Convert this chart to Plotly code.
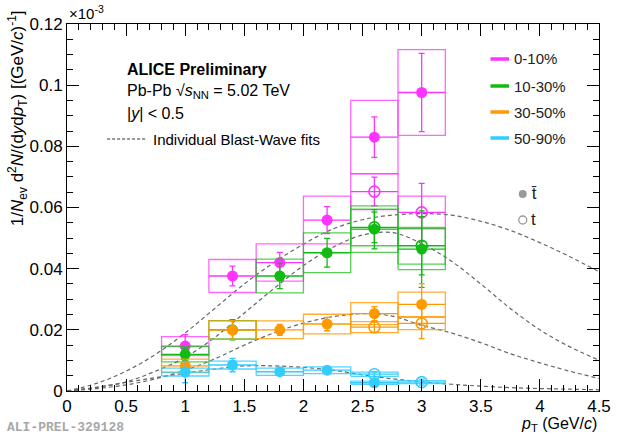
import plotly.graph_objects as go

# ---------------- data ----------------
pt_tbar = [1.0, 1.4, 1.8, 2.2, 2.6, 3.0]
pt_t = [2.6, 3.0]
pt_tbar_50_90 = [1.0, 1.4, 1.8, 2.2, 2.6]
bin_half_width = 0.2

# 0-10%
y_tbar_0_10 = [0.0147, 0.0376, 0.0420, 0.0559, 0.0830, 0.0976]
stat_tbar_0_10 = [0.0037, 0.0032, 0.0033, 0.0044, 0.0066, 0.0128]
sys_tbar_0_10 = [0.0031, 0.0054, 0.0061, 0.0078, 0.0120, 0.0140]
y_t_0_10 = [0.0652, 0.0584]
stat_t_0_10 = [0.0047, 0.0095]
sys_t_0_10 = [0.0059, 0.0053]

# 10-30%
y_tbar_10_30 = [0.0120, 0.0200, 0.0376, 0.0452, 0.0529, 0.0464]
stat_tbar_10_30 = [0.0020, 0.0033, 0.0041, 0.0047, 0.0064, 0.0125]
sys_tbar_10_30 = [0.0025, 0.0030, 0.0055, 0.0065, 0.0076, 0.0067]
y_t_10_30 = [0.0535, 0.0475]
stat_t_10_30 = [0.0050, 0.0095]
sys_t_10_30 = [0.0060, 0.0060]

# 30-50%
y_tbar_30_50 = [0.0082, 0.0199, 0.0200, 0.0219, 0.0253, 0.0283]
stat_tbar_30_50 = [0.0015, 0.0030, 0.0018, 0.0022, 0.0023, 0.0068]
sys_tbar_30_50 = [0.0022, 0.0030, 0.0029, 0.0032, 0.0036, 0.0040]
y_t_30_50 = [0.0209, 0.0221]
stat_t_30_50 = [0.0018, 0.0050]
sys_t_30_50 = [0.0018, 0.0020]

# 50-90%
y_tbar_50_90 = [0.0062, 0.0085, 0.0063, 0.0068, 0.0027]
stat_tbar_50_90 = [0.0035, 0.0022, 0.0010, 0.0010, 0.0007]
sys_tbar_50_90 = [0.0013, 0.0013, 0.0012, 0.0011, 0.0005]
y_t_50_90 = [0.0055, 0.0029]
stat_t_50_90 = [0.0008, 0.0010]
sys_t_50_90 = [0.0007, 0.0005]

# Blast-Wave fit curves
pt_fit = [0.0, 0.25, 0.5, 0.75, 1.0, 1.25, 1.5, 1.75, 2.0, 2.25, 2.5,
          2.75, 3.0, 3.25, 3.5, 3.75, 4.0, 4.25, 4.5]
fit_0_10 = [0.0, 0.0025, 0.0065, 0.0120, 0.0190, 0.0270, 0.0350, 0.0420,
            0.0480, 0.0530, 0.0560, 0.0575, 0.0580, 0.0575, 0.0555, 0.0525,
            0.0485, 0.0440, 0.0390]
fit_10_30 = [0.0, 0.0012, 0.0030, 0.0065, 0.0110, 0.0175, 0.0255, 0.0335,
             0.0410, 0.0470, 0.0510, 0.0518, 0.0482, 0.0425, 0.0350,
             0.0270, 0.0200, 0.0145, 0.0101]
fit_30_50 = [0.0, 0.0008, 0.0020, 0.0040, 0.0068, 0.0105, 0.0150, 0.0190,
             0.0222, 0.0243, 0.0253, 0.0245, 0.0215, 0.0190, 0.0158,
             0.0122, 0.0092, 0.0065, 0.0041]
fit_50_90 = [0.0, 0.0012, 0.0028, 0.0044, 0.0058, 0.0072, 0.0082, 0.0082,
             0.0077, 0.0068, 0.0053, 0.0040, 0.0030, 0.0022, 0.0016,
             0.0011, 0.0008, 0.0006, 0.0004]

centrality_labels = ["0-10%", "10-30%", "30-50%", "50-90%"]
colors = ["#ff33ff", "#11bb11", "#ff9900", "#33ccff"]
box_colors = ["rgba(255,51,255,0.75)", "rgba(30,190,30,0.75)",
              "rgba(255,153,0,0.8)", "rgba(51,204,255,0.85)"]

FONT = "Liberation Sans, Arial, sans-serif"

fig = go.Figure()

# fits
for fit in [fit_0_10, fit_10_30, fit_30_50, fit_50_90]:
    fig.add_trace(go.Scatter(x=pt_fit, y=fit, mode="lines",
                             line=dict(color="#666666", width=1.2, dash="4px,3px", shape="spline"),
                             hoverinfo="skip", showlegend=False))


def box_path(xs, ys, sys):
    bx, by = [], []
    for x, y, s in zip(xs, ys, sys):
        bx += [x - bin_half_width, x + bin_half_width, x + bin_half_width, x - bin_half_width, x - bin_half_width, None]
        by += [y - s, y - s, y + s, y + s, y - s, None]
    return bx, by


series = [
    (pt_tbar, y_tbar_0_10, stat_tbar_0_10, sys_tbar_0_10, pt_t, y_t_0_10, stat_t_0_10, sys_t_0_10),
    (pt_tbar, y_tbar_10_30, stat_tbar_10_30, sys_tbar_10_30, pt_t, y_t_10_30, stat_t_10_30, sys_t_10_30),
    (pt_tbar, y_tbar_30_50, stat_tbar_30_50, sys_tbar_30_50, pt_t, y_t_30_50, stat_t_30_50, sys_t_30_50),
    (pt_tbar_50_90, y_tbar_50_90, stat_tbar_50_90, sys_tbar_50_90, pt_t, y_t_50_90, stat_t_50_90, sys_t_50_90),
]

for i, (xb, yb, stb, syb, xt, yt, stt, syt) in enumerate(series):
    c = colors[i]
    bc = box_colors[i]
    # systematic boxes
    for xs, ys, ss in [(xb, yb, syb), (xt, yt, syt)]:
        bx, by = box_path(xs, ys, ss)
        fig.add_trace(go.Scatter(x=bx, y=by, mode="lines", line=dict(color=bc, width=1.3),
                                 hoverinfo="skip", showlegend=False))
    # open markers (t)
    fig.add_trace(go.Scatter(
        x=xt, y=yt, mode="markers",
        marker=dict(symbol="circle-open", size=11, color=c, line=dict(width=1.6, color=c)),
        error_x=dict(type="constant", value=bin_half_width, width=0, thickness=1.3, color=c),
        error_y=dict(type="data", array=stt, width=3, thickness=1.3, color=c),
        showlegend=False))
    # filled markers (tbar)
    fig.add_trace(go.Scatter(
        x=xb, y=yb, mode="markers",
        marker=dict(symbol="circle", size=11, color=c),
        error_x=dict(type="constant", value=bin_half_width, width=0, thickness=1.3, color=c),
        error_y=dict(type="data", array=stb, width=3, thickness=1.3, color=c),
        showlegend=False))

# ---------------- layout ----------------
L, R, T, B = 67, 12, 24, 48
W, H = 623, 439
pw, ph = W - L - R, H - T - B


def px(xp):
    return (xp - L) / pw


def py(yp):
    return (H - B - yp) / ph


annotations = []
shapes = []

annotations.append(dict(xref="paper", yref="paper", x=px(67), y=py(13), xanchor="left", yanchor="middle",
                        text="×10<sup>-3</sup>", showarrow=False, font=dict(family=FONT, size=15, color="black")))
annotations.append(dict(xref="paper", yref="paper", x=px(611), y=py(424), xanchor="right", yanchor="middle",
                        text="<i>p</i><sub>T</sub> (GeV/<i>c</i>)", showarrow=False,
                        font=dict(family=FONT, size=16, color="black")))
annotations.append(dict(xref="paper", yref="paper", x=px(16), y=py(8), xanchor="center", yanchor="top",
                        textangle=-90,
                        text="1/<i>N</i><sub>ev</sub> d<sup>2</sup><i>N</i>/(d<i>y</i>d<i>p</i><sub>T</sub>) [(GeV/<i>c</i>)<sup>-1</sup>]",
                        showarrow=False, font=dict(family=FONT, size=17, color="black")))
annotations.append(dict(xref="paper", yref="paper", x=px(4), y=py(427), xanchor="left", yanchor="middle",
                        text="<b>ALI-PREL-329128</b>", showarrow=False,
                        font=dict(family="Liberation Mono, DejaVu Sans Mono, monospace", size=13, color="#a8a8a8")))

text_lines = [("<b>ALICE Preliminary</b>", 69), ("Pb-Pb √<i>s</i><sub>NN</sub> = 5.02 TeV", 91),
              ("|<i>y</i>| < 0.5", 114)]
for txt, yp in text_lines:
    annotations.append(dict(xref="paper", yref="paper", x=px(126), y=py(yp), xanchor="left", yanchor="middle",
                            text=txt, showarrow=False, font=dict(family=FONT, size=16, color="black")))
annotations.append(dict(xref="paper", yref="paper", x=px(153), y=py(139), xanchor="left", yanchor="middle",
                        text="Individual Blast-Wave fits", showarrow=False,
                        font=dict(family=FONT, size=15, color="black")))
shapes.append(dict(type="line", xref="paper", yref="paper", x0=px(108), x1=px(147), y0=py(139), y1=py(139),
                   line=dict(color="#333333", width=1.2, dash="3px,2px")))

legend_rows = [59, 86, 112, 138]
for lab, c, yp in zip(centrality_labels, colors, legend_rows):
    shapes.append(dict(type="line", xref="paper", yref="paper", x0=px(500), x1=px(519), y0=py(yp), y1=py(yp),
                       line=dict(color=c, width=3.5)))
    annotations.append(dict(xref="paper", yref="paper", x=px(522), y=py(yp), xanchor="left", yanchor="middle",
                            text=lab, showarrow=False, font=dict(family=FONT, size=15, color="#222222")))

# particle legend
fig.add_trace(go.Scatter(x=[px(533)], y=[py(194)], xaxis="x2", yaxis="y2", mode="markers",
                         marker=dict(symbol="circle", size=8, color="#999999"), showlegend=False, hoverinfo="skip"))
fig.add_trace(go.Scatter(x=[px(533)], y=[py(220)], xaxis="x2", yaxis="y2", mode="markers",
                         marker=dict(symbol="circle-open", size=8, color="#999999", line=dict(width=1.3)),
                         showlegend=False, hoverinfo="skip"))
annotations.append(dict(xref="paper", yref="paper", x=px(539), y=py(193), xanchor="left", yanchor="middle",
                        text="t\u0304", showarrow=False, font=dict(family=FONT, size=17, color="#222222")))
annotations.append(dict(xref="paper", yref="paper", x=px(539), y=py(219), xanchor="left", yanchor="middle",
                        text="t", showarrow=False, font=dict(family=FONT, size=17, color="#222222")))

axis_common = dict(showgrid=False, zeroline=False, showline=True, linecolor="black", linewidth=1,
                   mirror="allticks", ticks="inside", tickcolor="black", ticklen=12, tickwidth=1,
                   tickfont=dict(family=FONT, size=17, color="black"))

fig.update_layout(
    width=W, height=H,
    margin=dict(l=L, r=R, t=T, b=B),
    paper_bgcolor="white", plot_bgcolor="white",
    showlegend=False,
    xaxis=dict(range=[0, 4.5], dtick=0.5, tick0=0,
               minor=dict(ticks="inside", dtick=0.1, ticklen=6, tickcolor="black", showgrid=False),
               **axis_common),
    yaxis=dict(range=[0, 0.12], dtick=0.02, tick0=0,
               minor=dict(ticks="inside", dtick=0.005, ticklen=6, tickcolor="black", showgrid=False),
               **axis_common),
    xaxis2=dict(range=[0, 1], overlaying="x", visible=False, anchor="y2"),
    yaxis2=dict(range=[0, 1], overlaying="y", visible=False, anchor="x2"),
    annotations=annotations,
    shapes=shapes,
)

fig.write_html("out.html")
